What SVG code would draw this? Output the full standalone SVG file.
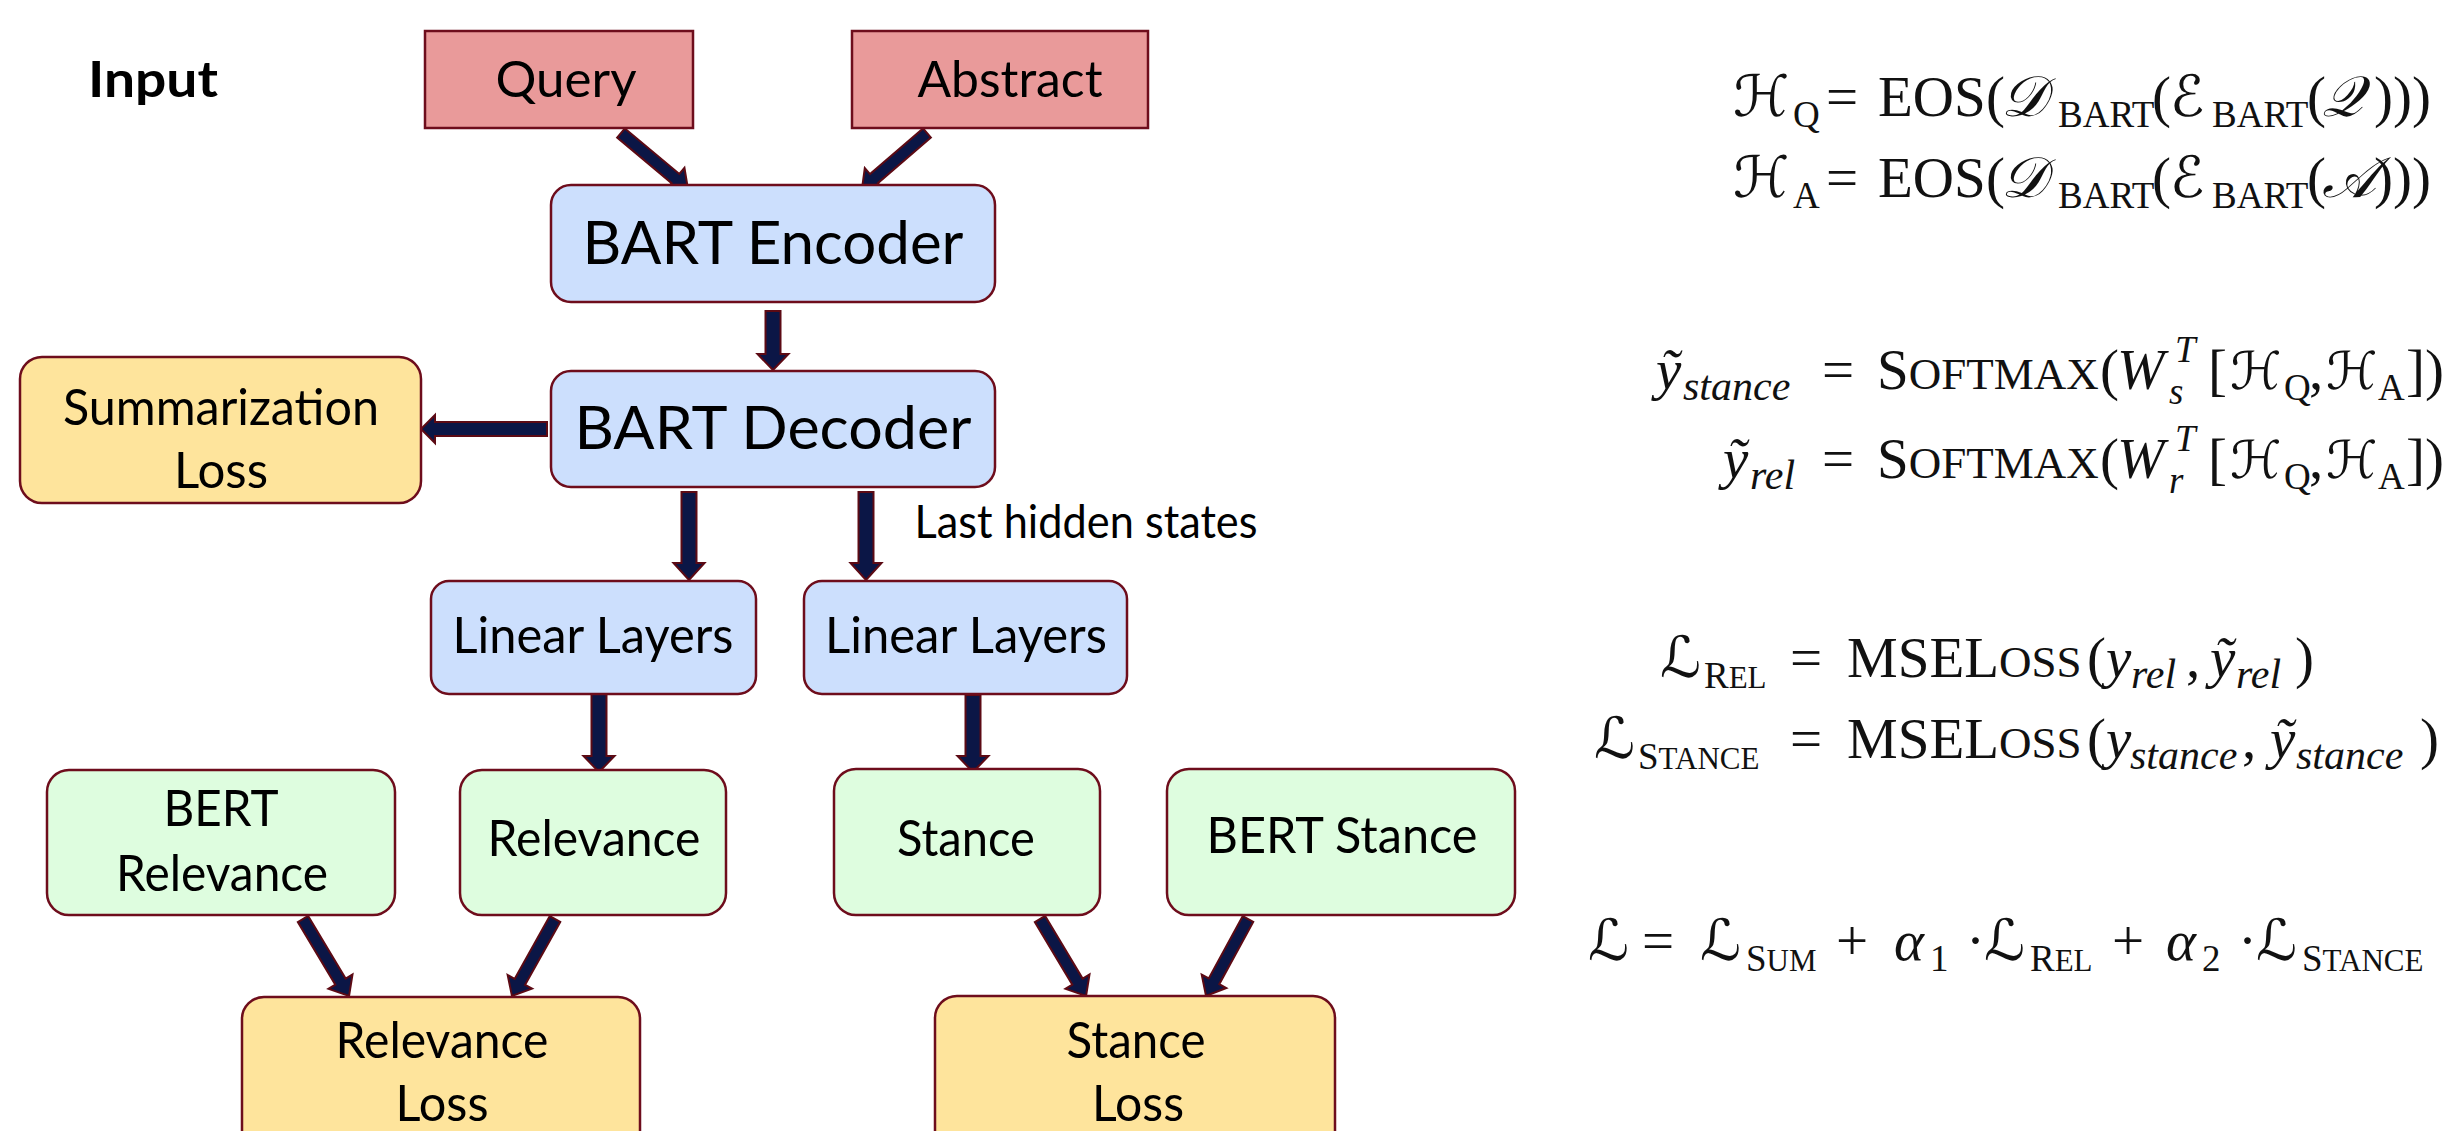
<svg xmlns="http://www.w3.org/2000/svg" width="2447" height="1131" viewBox="0 0 2447 1131">
<style>
.box{stroke:#6e0d1c;stroke-width:2.5}
.inp{fill:#e99a9a}
.blue{fill:#ccdffd}
.green{fill:#defddf}
.yel{fill:#fee49c}
.lbl{font-family:Lato,"Open Sans","DejaVu Sans",sans-serif;fill:#000;text-anchor:middle}
.arr{fill:#0b1646;stroke:#5c0a14;stroke-width:2;stroke-linejoin:miter}
.m{font-family:"Liberation Serif","DejaVu Serif",serif;font-size:57px;fill:#111}
.cal{font-family:"DejaVu Serif","DejaVu Sans","Liberation Serif",serif;font-style:italic;font-size:57px}
.cs{font-size:52px}
.it{font-style:italic}
.sub{font-size:37px}
.isub{font-size:42px;font-style:italic}
.sc{font-size:31px}
.sc2{font-size:45px}
</style>
<rect width="2447" height="1131" fill="#fff"/>

<text class="lbl" x="153" y="97" font-size="50" font-weight="bold" textLength="130" lengthAdjust="spacingAndGlyphs">Input</text>

<g id="connectors">
  <path class="arr" transform="translate(621,133) rotate(39.9)" d="M0,-6 H71 V-14 L87.3,0 L71,14 V6 H0 Z"/>
  <path class="arr" transform="translate(927,133) rotate(139.3)" d="M0,-6 H70 V-14 L85.8,0 L70,14 V6 H0 Z"/>
  <path class="arr" transform="translate(773,311) rotate(90)" d="M0,-7.5 H43 V-15.5 L59,0 L43,15.5 V7.5 H0 Z"/>
  <path class="arr" transform="translate(547,429) rotate(180)" d="M0,-7 H112 V-14 L126,0 L112,14 V7 H0 Z"/>
  <path class="arr" transform="translate(689,492) rotate(90)" d="M0,-7.5 H71 V-15.5 L88,0 L71,15.5 V7.5 H0 Z"/>
  <path class="arr" transform="translate(866,492) rotate(90)" d="M0,-7.5 H71 V-15.5 L88,0 L71,15.5 V7.5 H0 Z"/>
  <path class="arr" transform="translate(599,694) rotate(90)" d="M0,-7.5 H62 V-15.5 L78,0 L62,15.5 V7.5 H0 Z"/>
  <path class="arr" transform="translate(973,695) rotate(90)" d="M0,-7.5 H61 V-15.5 L77,0 L61,15.5 V7.5 H0 Z"/>
  <path class="arr" transform="translate(303,919) rotate(59.1)" d="M0,-6 H73 V-14 L89.7,0 L73,14 V6 H0 Z"/>
  <path class="arr" transform="translate(555,919) rotate(119.2)" d="M0,-6 H72 V-14 L88.2,0 L72,14 V6 H0 Z"/>
  <path class="arr" transform="translate(1040,919) rotate(59.1)" d="M0,-6 H73 V-14 L89.7,0 L73,14 V6 H0 Z"/>
  <path class="arr" transform="translate(1248,919) rotate(118.6)" d="M0,-6 H71 V-14 L87.7,0 L71,14 V6 H0 Z"/>
</g>

<g id="query">
  <rect class="box inp" x="425" y="31" width="268" height="97"/>
  <text class="lbl" x="566" y="97" font-size="50" textLength="141" lengthAdjust="spacingAndGlyphs">Query</text>
</g>
<g id="abstract">
  <rect class="box inp" x="852" y="31" width="296" height="97"/>
  <text class="lbl" x="1010" y="97" font-size="50" textLength="185" lengthAdjust="spacingAndGlyphs">Abstract</text>
</g>
<g id="bart-encoder">
  <rect class="box blue" x="551" y="185" width="444" height="117" rx="20"/>
  <text class="lbl" x="773" y="264" font-size="60" textLength="381" lengthAdjust="spacingAndGlyphs">BART Encoder</text>
</g>
<g id="bart-decoder">
  <rect class="box blue" x="551" y="371" width="444" height="116" rx="20"/>
  <text class="lbl" x="773" y="449" font-size="60" textLength="397" lengthAdjust="spacingAndGlyphs">BART Decoder</text>
</g>
<g id="summarization-loss">
  <rect class="box yel" x="20" y="357" width="401" height="146" rx="22"/>
  <text class="lbl" x="221" y="425" font-size="50" textLength="316" lengthAdjust="spacingAndGlyphs">Summarization</text>
  <text class="lbl" x="221" y="488" font-size="50" textLength="94" lengthAdjust="spacingAndGlyphs">Loss</text>
</g>
<g id="last-hidden-label">
  <text class="lbl" x="1086" y="538" font-size="46" textLength="343" lengthAdjust="spacingAndGlyphs">Last hidden states</text>
</g>
<g id="linear-layers-left">
  <rect class="box blue" x="431" y="581" width="325" height="113" rx="18"/>
  <text class="lbl" x="593" y="653" font-size="50" textLength="281" lengthAdjust="spacingAndGlyphs">Linear Layers</text>
</g>
<g id="linear-layers-right">
  <rect class="box blue" x="804" y="581" width="323" height="113" rx="18"/>
  <text class="lbl" x="966" y="653" font-size="50" textLength="282" lengthAdjust="spacingAndGlyphs">Linear Layers</text>
</g>
<g id="bert-relevance">
  <rect class="box green" x="47" y="770" width="348" height="145" rx="22"/>
  <text class="lbl" x="221" y="826" font-size="50" textLength="115" lengthAdjust="spacingAndGlyphs">BERT</text>
  <text class="lbl" x="222" y="891" font-size="50" textLength="212" lengthAdjust="spacingAndGlyphs">Relevance</text>
</g>
<g id="relevance">
  <rect class="box green" x="460" y="770" width="266" height="145" rx="22"/>
  <text class="lbl" x="594" y="856" font-size="50" textLength="213" lengthAdjust="spacingAndGlyphs">Relevance</text>
</g>
<g id="stance">
  <rect class="box green" x="834" y="769" width="266" height="146" rx="22"/>
  <text class="lbl" x="966" y="856" font-size="50" textLength="138" lengthAdjust="spacingAndGlyphs">Stance</text>
</g>
<g id="bert-stance">
  <rect class="box green" x="1167" y="769" width="348" height="146" rx="22"/>
  <text class="lbl" x="1342" y="853" font-size="50" textLength="271" lengthAdjust="spacingAndGlyphs">BERT Stance</text>
</g>
<g id="relevance-loss">
  <rect class="box yel" x="242" y="997" width="398" height="160" rx="22"/>
  <text class="lbl" x="442" y="1058" font-size="50" textLength="213" lengthAdjust="spacingAndGlyphs">Relevance</text>
  <text class="lbl" x="442" y="1121" font-size="50" textLength="93" lengthAdjust="spacingAndGlyphs">Loss</text>
</g>
<g id="stance-loss">
  <rect class="box yel" x="935" y="996" width="400" height="160" rx="22"/>
  <text class="lbl" x="1136" y="1058" font-size="50" textLength="139" lengthAdjust="spacingAndGlyphs">Stance</text>
  <text class="lbl" x="1138" y="1121" font-size="50" textLength="92" lengthAdjust="spacingAndGlyphs">Loss</text>
</g>

<g id="equations">
  <text class="m" y="116"><tspan class="cal" x="1733">ℋ</tspan><tspan class="sub" x="1793" y="127">Q</tspan><tspan x="1826" y="116">=</tspan><tspan x="1878">EOS</tspan><tspan x="1986">(</tspan><tspan class="cal" x="2001">𝒟</tspan><tspan class="sub" x="2058" y="127">BART</tspan><tspan x="2152" y="116">(</tspan><tspan class="cal" x="2170">ℰ</tspan><tspan class="sub" x="2212" y="127">BART</tspan><tspan x="2307" y="116">(</tspan><tspan class="cal" x="2322">𝒬</tspan><tspan x="2374">)))</tspan></text>
  <text class="m" y="197"><tspan class="cal" x="1733">ℋ</tspan><tspan class="sub" x="1793" y="208">A</tspan><tspan x="1826" y="197">=</tspan><tspan x="1878">EOS</tspan><tspan x="1986">(</tspan><tspan class="cal" x="2001">𝒟</tspan><tspan class="sub" x="2058" y="208">BART</tspan><tspan x="2152" y="197">(</tspan><tspan class="cal" x="2170">ℰ</tspan><tspan class="sub" x="2212" y="208">BART</tspan><tspan x="2307" y="197">(</tspan><tspan class="cal" x="2322">𝒜</tspan><tspan x="2374">)))</tspan></text>

  <text class="m" y="389"><tspan class="it" x="1656">ỹ</tspan><tspan class="isub" x="1683" y="400">stance</tspan><tspan x="1822" y="389">=</tspan><tspan x="1877">S</tspan><tspan class="sc2">OFTMAX</tspan><tspan x="2100">(</tspan><tspan class="it" x="2117">W</tspan><tspan class="it sub" x="2175" y="362">T</tspan><tspan class="it sub" x="2169" y="404">s</tspan><tspan x="2208" y="389">[</tspan><tspan class="cal cs" x="2230">ℋ</tspan><tspan class="sub" x="2284" y="400">Q</tspan><tspan x="2309" y="389">,</tspan><tspan class="cal cs" x="2326">ℋ</tspan><tspan class="sub" x="2378" y="400">A</tspan><tspan x="2406" y="389">])</tspan></text>
  <text class="m" y="478"><tspan class="it" x="1723">ỹ</tspan><tspan class="isub" x="1750" y="489">rel</tspan><tspan x="1822" y="478">=</tspan><tspan x="1877">S</tspan><tspan class="sc2">OFTMAX</tspan><tspan x="2100">(</tspan><tspan class="it" x="2117">W</tspan><tspan class="it sub" x="2175" y="451">T</tspan><tspan class="it sub" x="2169" y="493">r</tspan><tspan x="2208" y="478">[</tspan><tspan class="cal cs" x="2230">ℋ</tspan><tspan class="sub" x="2284" y="489">Q</tspan><tspan x="2309" y="478">,</tspan><tspan class="cal cs" x="2326">ℋ</tspan><tspan class="sub" x="2378" y="489">A</tspan><tspan x="2406" y="478">])</tspan></text>

  <text class="m" y="677"><tspan class="cal" x="1660">ℒ</tspan><tspan class="sub" x="1704" y="688">R</tspan><tspan class="sc">EL</tspan><tspan x="1790" y="677">=</tspan><tspan x="1847">MSEL</tspan><tspan class="sc2">OSS</tspan><tspan x="2087">(</tspan><tspan class="it" x="2106">y</tspan><tspan class="isub" x="2131" y="688">rel</tspan><tspan x="2186" y="677">,</tspan><tspan class="it" x="2210">ỹ</tspan><tspan class="isub" x="2236" y="688">rel</tspan><tspan x="2295" y="677">)</tspan></text>
  <text class="m" y="758"><tspan class="cal" x="1594">ℒ</tspan><tspan class="sub" x="1638" y="769">S</tspan><tspan class="sc">TANCE</tspan><tspan x="1790" y="758">=</tspan><tspan x="1847">MSEL</tspan><tspan class="sc2">OSS</tspan><tspan x="2087">(</tspan><tspan class="it" x="2106">y</tspan><tspan class="isub" x="2130" y="769">stance</tspan><tspan x="2242" y="758">,</tspan><tspan class="it" x="2270">ỹ</tspan><tspan class="isub" x="2296" y="769">stance</tspan><tspan x="2420" y="758">)</tspan></text>

  <text class="m" y="960"><tspan class="cal" x="1588">ℒ</tspan><tspan x="1642">=</tspan><tspan class="cal" x="1700">ℒ</tspan><tspan class="sub" x="1746" y="971">S</tspan><tspan class="sc">UM</tspan><tspan x="1836" y="960">+</tspan><tspan class="it" x="1894">α</tspan><tspan class="sub" x="1930" y="971">1</tspan><tspan x="1966" y="960">·</tspan><tspan class="cal" x="1984">ℒ</tspan><tspan class="sub" x="2030" y="971">R</tspan><tspan class="sc">EL</tspan><tspan x="2112" y="960">+</tspan><tspan class="it" x="2166">α</tspan><tspan class="sub" x="2202" y="971">2</tspan><tspan x="2238" y="960">·</tspan><tspan class="cal" x="2256">ℒ</tspan><tspan class="sub" x="2302" y="971">S</tspan><tspan class="sc">TANCE</tspan></text>
</g>
</svg>
